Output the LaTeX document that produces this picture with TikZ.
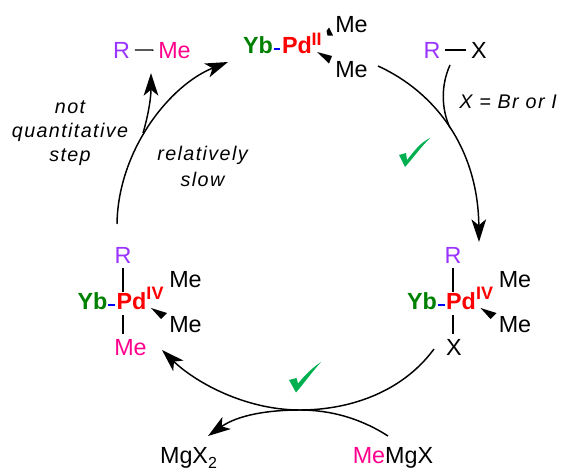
\documentclass[tikz,border=0pt]{standalone}
\usepackage{fontspec}
\setmainfont{Liberation Sans}
\newfontfamily\notefont[LetterSpace=7]{Liberation Sans}
\usetikzlibrary{arrows.meta}
\definecolor{ybgreen}{RGB}{0,128,0}
\definecolor{rpurple}{RGB}{153,51,255}
\definecolor{mepink}{RGB}{255,0,140}
\definecolor{tickgreen}{RGB}{0,176,80}

\begin{document}
\begin{tikzpicture}[
			x=0.75pt,
			y=-0.75pt,
			atom/.style={
					anchor=base,
					inner sep=0pt,
					outer sep=3.75pt,
					font=\fontsize{17.5}{19}\selectfont
				},
			yb/.style={
					atom,
					outer sep=0pt,
					text=ybgreen,
					font=\fontsize{17.5}{19}\selectfont\bfseries
				},
			pd/.style={yb,text=red},
			ox/.style={yb,text=red,font=\fontsize{13.5}{14}\selectfont\bfseries},
			note/.style={
					anchor=center,
					inner sep=0pt,
					font=\fontsize{14.8}{16}\selectfont\notefont\itshape
				},
			bond/.style={line width=1pt},
			ylink/.style={draw=blue,line width=1.8pt,shorten <=0.8pt,shorten >=1.2pt},
			wedge/.style={fill=black},
			tick/.style={fill=tickgreen},
			cyc/.style={line width=1.1pt,-{Stealth[length=17pt,width=11pt,inset=4.5pt]}},
			side/.style={line width=1.1pt}
		]
		\useasboundingbox (0,0) rectangle (563,471);

		\node (tYb) [yb] at (258,53) {Yb};
		\node (tPd) [pd] at (297,53) {Pd};
		\node (tOx) [ox] at (316.5,45) {II};
		\node (tMeA) [atom] at (351.5,32) {Me};
		\node (tMeB) [atom] at (351.5,77) {Me};

		\node (pR) [atom,text=rpurple] at (121.5,58) {R};
		\node (pMe) [atom,text=mepink] at (174.5,58) {Me};

		\node (sR) [atom,text=rpurple] at (432,58) {R};
		\node (sX) [atom] at (479,58) {X};

		\node (lR) [atom,text=rpurple] at (123,263) {R};
		\node (lYb) [yb] at (92.5,309) {Yb};
		\node (lPd) [pd] at (131.5,309) {Pd};
		\node (lOx) [ox] at (155,299) {IV};
		\node (lMeA) [atom] at (185.5,287) {Me};
		\node (lMeB) [atom] at (185.5,332) {Me};
		\node (lMeC) [atom,text=mepink] at (130.5,355) {Me};

		\node (rR) [atom,text=rpurple] at (453,263) {R};
		\node (rYb) [yb] at (422,309) {Yb};
		\node (rPd) [pd] at (461,309) {Pd};
		\node (rOx) [ox] at (484.5,299) {IV};
		\node (rMeA) [atom] at (515,287) {Me};
		\node (rMeB) [atom] at (515,332) {Me};
		\node (rX) [atom] at (454,355) {X};

		\node (mgOut) [atom] at (188.5,463) {MgX\raisebox{-4pt}{\fontsize{12}{13}\selectfont 2}};
		\node (mgIn) [atom] at (393,463) {\textcolor{mepink}{Me}MgX};

		\node (noteA) [note] at (70,107) {not};
		\node (noteB) [note] at (70,132) {quantitative};
		\node (noteC) [note] at (70,157) {step};
		\node (noteD) [note] at (202.5,155) {relatively};
		\node (noteE) [note] at (202.5,179) {slow};
		\node (noteF) [note,anchor=west] at (459,102) {X = Br or I};

		\coordinate (oaIn) at (479,242);
		\coordinate (rxJoin) at (450,128);
		\coordinate (tmOut) at (434,349);
		\coordinate (low) at (300,410);
		\coordinate (tmIn) at (162,350);
		\coordinate (mgStart) at (388,436);
		\coordinate (mgEnd) at (208,436);
		\coordinate (reStart) at (117,224);
		\coordinate (reIn) at (228,62);
		\coordinate (rmJoin) at (143,133);
		\coordinate (rmIn) at (151,73);
		\coordinate (tmeOut) at (378,66);
		\coordinate (sxOut) at (450,65);

		\draw[bond] (pR.east) -- (pMe.west);
		\draw[bond] (sR.east) -- (sX.west);
		\draw[bond] (lR.south) -- (lR.south|-lPd.north);
		\draw[bond] (lR.south|-lMeC.north) -- ++(0,-19);
		\draw[bond] (rR.south) -- (rR.south|-rPd.north);
		\draw[bond] (rR.south|-rX.north) -- ++(0,-19);

		\draw[ylink] ([yshift=3pt]tYb.base east) -- ([yshift=3pt]tPd.base west);
		\draw[ylink] ([yshift=3pt]lYb.base east) -- ([yshift=3pt]lPd.base west);
		\draw[ylink] ([yshift=3pt]rYb.base east) -- ([yshift=3pt]rPd.base west);

		\fill[wedge] (317,52) -- (332,56) -- (329,63.5) -- cycle;
		\fill[wedge] (151,308) -- (167,313) -- (161,319) -- cycle;
		\fill[wedge] (480.5,308) -- (496.5,313) -- (490.5,319) -- cycle;
		\fill[wedge] (333,35.5) -- (327.5,35.5) -- (326.5,31) -- (329,27.5) -- cycle;

		\draw[cyc] (tmeOut) .. controls (435,92) and (478,148) .. (oaIn);
		\draw[side] (sxOut) .. controls (441,85) and (441,108) .. (rxJoin);
		\draw[cyc] (tmOut) .. controls (400,395) and (345,410) .. (low)
			.. controls (245,410) and (195,382) .. (tmIn);
		\draw[side] (mgStart) .. controls (360,418) and (330,410) .. (low);
		\draw[cyc] (low) .. controls (268,410) and (238,415) .. (mgEnd);
		\draw[cyc] (reStart) .. controls (118,150) and (170,85) .. (reIn);
		\draw[cyc] (rmJoin) .. controls (147,120) and (151,100) .. (rmIn);

		\fill[tick] (399,155) -- (406,153) -- (407,160) .. controls (415,150) and (420,143) .. (430,138)
			.. controls (420,148) and (414,157) .. (405,167) -- cycle;
		\fill[tick] (289,380) -- (296.5,378) -- (298,383.5) .. controls (305,375) and (312,368) .. (321,362)
			.. controls (312,372) and (305,382) .. (296,392.5) -- cycle;

	\end{tikzpicture}
\end{document}
